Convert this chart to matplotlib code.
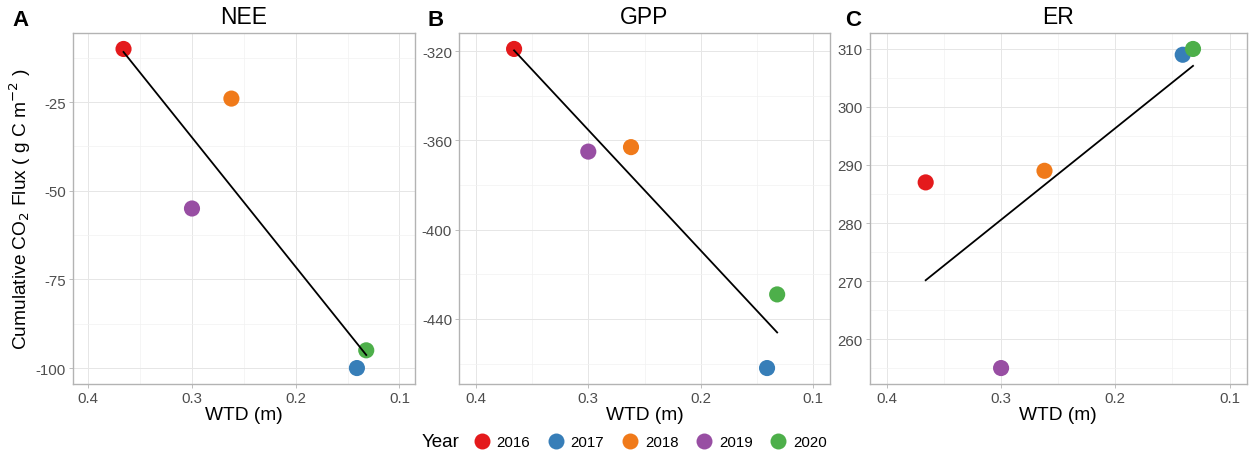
import numpy as np
import matplotlib
matplotlib.use("Agg")
import matplotlib.pyplot as plt
from matplotlib.ticker import MultipleLocator, FormatStrFormatter
from matplotlib.lines import Line2D

plt.rcParams['font.family'] = ['Liberation Sans', 'DejaVu Sans']
plt.rcParams['axes.unicode_minus'] = False

# ---- data ----
years = ['2016', '2017', '2018', '2019', '2020']
year_colors = ['#E41A1C', '#377EB8', '#F07A1A', '#984EA3', '#4DAF4A']
wtd = [0.366, 0.141, 0.262, 0.300, 0.132]
nee = [-10, -100, -24, -55, -95]
gpp = [-319, -462, -363, -365, -429]
er = [287, 309, 289, 255, 310]

panel_titles = ['NEE', 'GPP', 'ER']
panel_letters = ['A', 'B', 'C']
panel_values = [nee, gpp, er]
y_steps = [25, 40, 10]

W, H = 1249, 460
fig = plt.figure(figsize=(W / 100, H / 100), dpi=100)

# axes boxes in pixels (left, right); top/bottom shared
boxes = [(72.7, 415), (459, 830), (869.7, 1246.7)]
top_px, bot_px = 34, 385
letter_x = [12, 428, 845]

tick_col = '#4D4D4D'
border_col = '#B3B3B3'

for (l, r), title, letter, vals, step, lx in zip(boxes, panel_titles, panel_letters,
                                                 panel_values, y_steps, letter_x):
    ax = fig.add_axes([l / W, 1 - bot_px / H, (r - l) / W, (bot_px - top_px) / H])
    x = np.array(wtd)
    y = np.array(vals, dtype=float)
    ax.scatter(x, y, c=year_colors, s=135, linewidths=0, zorder=3)
    k, b = np.polyfit(x, y, 1)
    xs = np.array([x.min(), x.max()])
    ax.plot(xs, k * xs + b, color='black', lw=1.3, zorder=4)

    ax.set_xlim(0.415, 0.085)
    lo, hi = y.min(), y.max()
    pad = 0.05 * (hi - lo)
    ax.set_ylim(lo - pad, hi + pad)

    ax.xaxis.set_major_locator(MultipleLocator(0.1))
    ax.xaxis.set_minor_locator(MultipleLocator(0.05))
    ax.xaxis.set_major_formatter(FormatStrFormatter('%.1f'))
    ax.yaxis.set_major_locator(MultipleLocator(step))
    ax.yaxis.set_minor_locator(MultipleLocator(step / 2))

    ax.grid(which='major', color='#E6E6E6', lw=0.7, zorder=0)
    ax.grid(which='minor', color='#F2F2F2', lw=0.5, zorder=0)
    ax.set_axisbelow(True)
    for sp in ax.spines.values():
        sp.set_color(border_col)
        sp.set_linewidth(1.0)
    ax.tick_params(which='major', length=3, width=0.6, color=border_col,
                   labelsize=10.8, labelcolor=tick_col, pad=2)
    ax.tick_params(which='minor', length=0)

    ax.set_title(title, fontsize=16.5, pad=7)
    ax.set_xlabel('WTD (m)', fontsize=13.8, labelpad=1)
    fig.text(lx / W, 1 - 21 / H, letter, fontsize=16, fontweight='bold',
             ha='left', va='center')

fig.text(20 / W, 1 - 209 / H, 'Cumulative CO$_2$ Flux ( g C m$^{-2}$ )',
         rotation=90, ha='center', va='center', fontsize=13.8)

# legend
handles = [Line2D([], [], marker='o', ls='', color=c, markersize=11.5, markeredgewidth=0)
           for c in year_colors]
fig.text(422 / W, 1 - 443 / H, 'Year', fontsize=13.5, ha='left', va='center')
fig.legend(handles, years, ncol=5, loc='center left', frameon=False,
           bbox_to_anchor=(474 / W, 1 - 443 / H), fontsize=10.8,
           handlelength=1.0, handletextpad=0.5, columnspacing=1.2,
           borderaxespad=0, borderpad=0)

fig.savefig('out.png', dpi=100)
